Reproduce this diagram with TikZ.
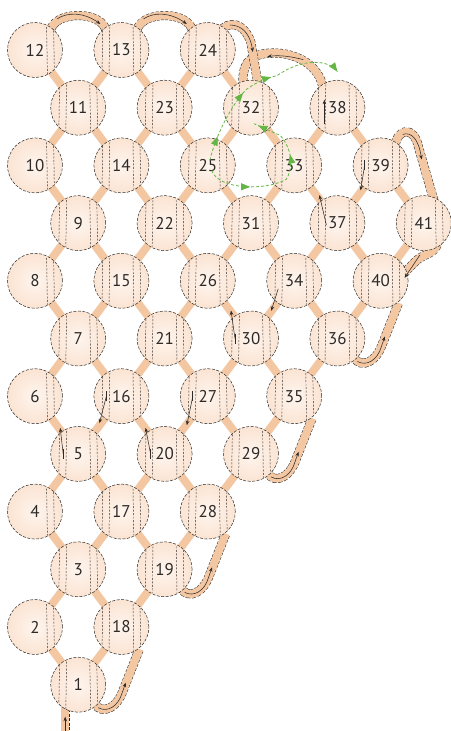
\documentclass[tikz,border=0pt]{standalone}
\usepackage{fontspec}
\setmainfont{PT Sans}
\usetikzlibrary{calc,arrows.meta,decorations.markings}
\definecolor{beadout}{RGB}{247,211,186}
\definecolor{beadmid}{RGB}{251,228,211}
\definecolor{beadin}{RGB}{254,245,238}
\definecolor{bandc}{RGB}{244,199,163}
\definecolor{ink}{RGB}{45,42,40}
\definecolor{gr}{RGB}{100,182,68}
\pgfdeclareradialshading{beadshade}{\pgfpoint{0bp}{0bp}}{color(0bp)=(beadin); color(25bp)=(beadmid); color(50bp)=(beadout); color(72bp)=(beadout)}
\pgfdeclarelayer{bg}
\pgfdeclarelayer{fg}
\pgfsetlayers{bg,main,fg}
\tikzset{
  bead/.style={circle, minimum size=55pt, inner sep=0pt, shade, shading=beadshade,
    draw=ink, line width=0.5pt, dash pattern=on 3pt off 1.5pt, text=ink,
    font=\fontsize{17}{19}\selectfont},
  band/.style={line width=8pt, draw=bandc},
  sband/.style={line width=9pt, draw=ink, dash pattern=on 3pt off 1.5pt,
    postaction={draw=bandc, line width=8pt, solid}},
  pass/.style={draw=ink, line width=0.45pt, dash pattern=on 2pt off 1.5pt},
  darrow/.style={draw=ink, line width=0.55pt, -{Stealth[length=4.5pt,width=3.5pt]}},
  tickmark/.style={draw=ink, line width=0.75pt},
  gline/.style={draw=gr, line width=0.8pt, dash pattern=on 3pt off 2pt, postaction={decorate}},
  gtip/.style={gr},
}
\begin{document}
\begin{tikzpicture}[x=1pt,y=-1pt]
\useasboundingbox (0,0) rectangle (450,731);
% beads
\foreach \n/\c/\r in {1/1/11,2/0/10,3/1/9,4/0/8,5/1/7,6/0/6,7/1/5,8/0/4,9/1/3,10/0/2,11/1/1,12/0/0,
  13/2/0,14/2/2,15/2/4,16/2/6,17/2/8,18/2/10,19/3/9,20/3/7,21/3/5,22/3/3,23/3/1,
  24/4/0,25/4/2,26/4/4,27/4/6,28/4/8,29/5/7,30/5/5,31/5/3,32/5/1,33/6/2,34/6/4,35/6/6,
  36/7/5,37/7/3,38/7/1,39/8/2,40/8/4,41/9/3}
  \node[bead] (b\n) at ({35+43.2*\c},{50+57.7*\r}) {\n};

\begin{pgfonlayer}{bg}
% regular thread bands between neighbouring beads
\foreach \a/\b in {12/11,11/10,10/9,9/8,8/7,7/6,6/5,5/4,4/3,3/2,2/1,
  11/13,11/14,9/14,9/15,7/15,7/16,5/16,5/17,3/17,3/18,1/18,
  13/23,23/14,14/22,22/15,15/21,21/16,16/20,20/17,17/19,19/18,
  23/24,23/25,22/25,22/26,21/26,21/27,20/27,20/28,19/28,
  24/32,32/25,25/31,31/26,26/30,30/27,27/29,29/28,
  32/33,31/33,31/34,30/34,30/35,29/35,
  33/38,33/37,37/34,34/36,36/35,
  38/39,39/37,37/40,40/36,39/41,41/40}
  \draw[band] (b\a.center) -- (b\b.center);
% start tail
\draw[sband] ($(b1)+(-13,20)$) -- ($(b1)+(-13,48)$);
% arcs over the top
\draw[sband] ($(b12)+(15,-18)$) .. controls ($(b12)+(18,-40)$) and ($(b13)+(-18,-40)$) .. ($(b13)+(-15,-18)$);
\draw[sband] ($(b13)+(15,-18)$) .. controls ($(b13)+(18,-40)$) and ($(b24)+(-18,-40)$) .. ($(b24)+(-15,-18)$);
\draw[sband] ($(b38)+(-14,-18)$) .. controls ($(b38)+(-18,-46)$) and ($(b38)+(-48,-58)$) .. ($(b32)+(13,-54)$)
  .. controls ($(b32)+(-2,-51)$) and ($(b32)+(-9,-44)$) .. ($(b32)+(-8,-22)$);
\draw[sband] ($(b24)+(12,-18)$) .. controls ($(b24)+(20,-30)$) and ($(b24)+(36,-28)$) .. ($(b24)+(43,-8)$) -- ($(b32)+(8,-18)$);
\draw[sband] ($(b39)+(14,-18)$) .. controls ($(b39)+(17,-39)$) and ($(b39)+(34,-39)$) .. ($(b39)+(38,-18)$) -- ($(b41)+(12,-16)$);
% hook 41 -> 40
\draw[sband] ($(b41)+(14,18)$) .. controls ($(b41)+(13,32)$) and ($(b41)+(-2,30)$) .. ($(b41)+(-10,40)$) -- ($(b40)+(18,-2)$);
% U-turns
\foreach \L/\U in {1/18,19/28,29/35,36/40}
  \draw[sband] ($(b\L)+(15,14)$) .. controls ($(b\L)+(18,30)$) and ($(b\L)+(36,28)$) .. ($(b\L)+(44,8)$) -- ($(b\U)+(18,22)$);
\end{pgfonlayer}

\begin{pgfonlayer}{fg}
% thread passes seen through the beads
\foreach \n/\c in {1/1,2/0,3/1,4/0,5/1,6/0,7/1,8/0,9/1,10/0,11/1,12/0,13/2,14/2,15/2,16/2,17/2,18/2,
  19/3,20/3,21/3,22/3,23/3,24/4,25/4,26/4,27/4,28/4,29/5,30/5,31/5,32/5,33/6,34/6,35/6,
  36/7,37/7,38/7,39/8,40/8,41/9}{
  \begin{scope}
    \clip (b\n.center) circle (27pt);
    \draw[pass] ($(b\n.center)+(11.5,-30)$) -- ++(1,60);
    \draw[pass] ($(b\n.center)+(18.5,-30)$) -- ++(1,60);
    \ifnum\c>0
      \draw[pass] ($(b\n.center)+(-11.5,-30)$) -- ++(-1,60);
      \draw[pass] ($(b\n.center)+(-18.5,-30)$) -- ++(-1,60);
    \fi
  \end{scope}
}
% direction arrows
\draw[darrow] ($(b1)+(-13,46)$) -- ($(b1)+(-13,32)$);
\draw[darrow] ($(b12)+(22,-31)$) .. controls ($(b12)+(32,-38)$) and ($(b13)+(-38,-38)$) .. ($(b13)+(-21,-26)$);
\draw[darrow] ($(b13)+(22,-31)$) .. controls ($(b13)+(32,-38)$) and ($(b24)+(-38,-38)$) .. ($(b24)+(-21,-26)$);
\draw[darrow] ($(b24)+(22,-25)$) .. controls ($(b24)+(33,-25)$) and ($(b24)+(42,-18)$) .. ($(b24)+(45,2)$);
\draw[darrow] ($(b38)+(-34,-48)$) .. controls ($(b38)+(-45,-51)$) and ($(b38)+(-58,-53)$) .. ($(b38)+(-70,-51)$);
\draw[darrow] ($(b39)+(22,-31)$) .. controls ($(b39)+(31,-34)$) and ($(b39)+(38,-26)$) .. ($(b39)+(41,-6)$);
\draw[darrow] ($(b41)+(-4,32)$) -- ($(b40)+(24,-3)$);
\foreach \L in {1,19,29,36}
  \draw[darrow] ($(b\L)+(20,23)$) .. controls ($(b\L)+(29,28)$) and ($(b\L)+(40,22)$) .. ($(b\L)+(44,8)$) -- ($(b\L)+(47.5,-2)$);
% arrows leaving beads
\draw[tickmark] ($(b5)+(-15,-5)$) -- ++(0,10);
\draw[darrow] ($(b5)+(-15,0)$) -- ($(b5)+(-18,-26)$);
\draw[tickmark] ($(b16)+(-15,-5)$) -- ++(0,10);
\draw[darrow] ($(b16)+(-15,0)$) -- ($(b16)+(-22,27)$);
\draw[tickmark] ($(b20)+(-14,-5)$) -- ++(0,10);
\draw[darrow] ($(b20)+(-14,0)$) -- ($(b20)+(-19,-26)$);
\draw[tickmark] ($(b27)+(-15,-5)$) -- ++(0,10);
\draw[darrow] ($(b27)+(-15,0)$) -- ($(b27)+(-21,29)$);
\draw[tickmark] ($(b30)+(-16,-5)$) -- ++(0,10);
\draw[darrow] ($(b30)+(-16,0)$) -- ($(b30)+(-20,-28)$);
\draw[darrow] ($(b34)+(-16,8)$) -- ($(b34)+(-23,30)$);
\draw[darrow] ($(b37)+(-11,2)$) -- ($(b37)+(-18,-28)$);
\draw[tickmark] ($(b39)+(-16,-5)$) -- ++(0,10);
\draw[darrow] ($(b39)+(-16,0)$) -- ($(b39)+(-20,25)$);
\draw[darrow] ($(b38)+(-13,16)$) -- ($(b38)+(-13,-8)$);
% green path arrows
\draw[gline, decoration={markings,
    mark=at position 0.28 with {\arrow[gr]{Triangle[length=9pt,width=7pt]}},
    mark=at position 0.68 with {\arrow[gr]{Triangle[length=9pt,width=7pt]}},
    mark=at position 0.97 with {\arrow[gr]{Triangle[length=9pt,width=7pt]}}}]
  ($(b25)+(4,5)$) .. controls ($(b25)+(10,24)$) and ($(b33)+(-30,26)$) .. ($(b33)+(-8,14)$)
  .. controls ($(b33)+(-2,5)$) and ($(b33)+(0,-14)$) .. ($(b33)+(-14,-30)$) -- ($(b32)+(3,16)$);
\draw[gline, decoration={markings,
    mark=at position 0.14 with {\arrow[gr]{Triangle[length=9pt,width=7pt]}},
    mark=at position 0.42 with {\arrow[gr]{Triangle[length=9pt,width=7pt]}},
    mark=at position 0.6 with {\arrow[gr]{Triangle[length=9pt,width=7pt]}},
    mark=at position 1 with {\arrow[gr]{Triangle[length=9pt,width=7pt]}}}]
  ($(b25)+(2,-5)$) .. controls ($(b25)+(8,-30)$) and ($(b32)+(-20,-2)$) .. ($(b32)+(-5,-18)$)
  .. controls ($(b32)+(6,-26)$) and ($(b32)+(16,-30)$) .. ($(b32)+(26,-32)$)
  .. controls ($(b32)+(48,-48)$) and ($(b38)+(-10,-50)$) .. ($(b38)+(0,-36)$);
\end{pgfonlayer}
\end{tikzpicture}
\end{document}
